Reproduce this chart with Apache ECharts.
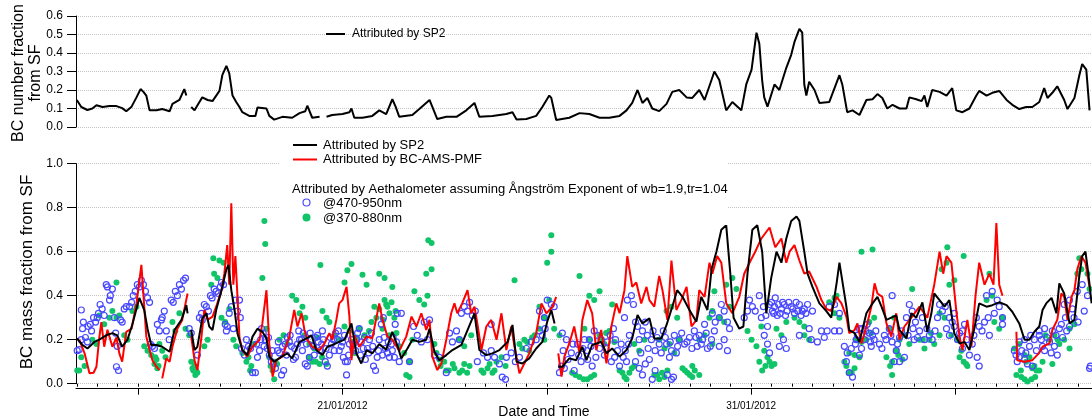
<!DOCTYPE html>
<html><head><meta charset="utf-8">
<script src="https://cdn.jsdelivr.net/npm/echarts@6/dist/echarts.min.js"></script>
<style>html,body{margin:0;padding:0;background:#fff}#c{width:1092px;height:417px}</style>
</head><body><div id="c"></div>
<script>
// x values: days since 01/01/2012 00:00 (20 = 21/01/2012, 30 = 31/01/2012)
const numberFractionSP2 = [[13.50,0.146],[13.61,0.108],[13.76,0.092],[13.88,0.10],[13.98,0.118],[14.13,0.108],[14.30,0.113],[14.47,0.113],[14.61,0.102],[14.71,0.085],[14.84,0.11],[14.96,0.16],[15.06,0.205],[15.13,0.19],[15.20,0.17],[15.28,0.09],[15.45,0.09],[15.59,0.097],[15.77,0.085],[15.84,0.125],[16.01,0.146],[16.13,0.205],[16.18,0.17],[16.24,null],[16.30,0.108],[16.38,0.09],[16.50,0.135],[16.57,0.16],[16.70,0.146],[16.82,0.14],[16.99,0.195],[17.06,0.28],[17.16,0.33],[17.23,0.29],[17.31,0.17],[17.40,0.135],[17.48,0.108],[17.55,0.08],[17.72,0.06],[17.87,0.06],[17.92,0.105],[18.14,0.10],[18.21,0.06],[18.33,0.04],[18.53,0.055],[18.77,0.05],[18.95,0.075],[19.09,0.085],[19.14,0.115],[19.26,0.05],[19.44,0.055],[19.53,null],[19.61,0.055],[19.75,0.065],[20.00,0.07],[20.17,0.08],[20.22,0.10],[20.29,0.05],[20.49,0.05],[20.73,0.06],[20.90,0.09],[21.07,0.07],[21.22,0.15],[21.30,0.11],[21.39,0.055],[21.71,0.065],[21.88,0.097],[22.13,0.146],[22.32,0.043],[22.54,0.055],[22.79,0.055],[23.03,0.09],[23.23,0.13],[23.35,0.055],[23.67,0.06],[24.01,0.07],[24.16,0.08],[24.26,0.04],[24.50,0.043],[24.74,0.06],[24.89,0.108],[25.06,0.17],[25.11,0.157],[25.23,0.038],[25.55,0.05],[25.80,0.075],[26.04,0.07],[26.29,0.05],[26.53,0.05],[26.78,0.06],[26.95,0.09],[27.09,0.13],[27.22,0.20],[27.34,0.13],[27.46,0.157],[27.58,0.10],[27.75,0.086],[27.93,0.125],[28.07,0.19],[28.24,0.20],[28.42,0.16],[28.56,0.157],[28.73,0.20],[28.86,0.146],[29.03,0.254],[29.10,0.30],[29.22,0.254],[29.39,0.09],[29.54,0.135],[29.76,0.09],[29.88,0.23],[30.01,0.31],[30.13,0.51],[30.20,0.45],[30.27,0.25],[30.32,0.16],[30.40,0.11],[30.57,0.23],[30.69,0.20],[30.86,0.32],[30.98,0.39],[31.06,0.46],[31.18,0.53],[31.25,0.51],[31.30,0.23],[31.35,0.17],[31.42,0.245],[31.55,0.20],[31.67,0.13],[31.91,0.135],[32.04,0.21],[32.16,0.28],[32.23,0.23],[32.35,0.08],[32.48,0.09],[32.65,0.065],[32.82,0.146],[32.97,0.15],[33.09,0.178],[33.21,0.157],[33.33,0.10],[33.46,0.12],[33.63,0.10],[33.80,0.10],[33.87,0.16],[34.04,0.15],[34.17,0.14],[34.24,0.17],[34.31,0.108],[34.43,0.20],[34.61,0.19],[34.78,0.17],[34.92,0.21],[35.02,0.09],[35.17,0.08],[35.34,0.10],[35.51,0.17],[35.58,0.195],[35.76,0.17],[35.90,0.185],[36.07,0.195],[36.25,0.146],[36.39,0.12],[36.56,0.097],[36.73,0.108],[36.88,0.108],[37.05,0.135],[37.17,0.21],[37.25,0.157],[37.37,0.185],[37.49,0.22],[37.66,0.146],[37.74,0.097],[37.91,0.157],[38.03,0.28],[38.10,0.34],[38.20,0.31],[38.28,0.09]];

const massFractionSP2 = [[13.50,0.206],[13.64,0.176],[13.76,0.16],[13.93,0.19],[14.05,0.20],[14.22,0.22],[14.37,0.23],[14.49,0.22],[14.61,0.168],[14.74,0.20],[14.86,0.27],[15.03,0.39],[15.15,0.335],[15.23,0.25],[15.32,0.176],[15.45,0.176],[15.59,0.168],[15.77,0.145],[15.89,0.244],[16.06,0.29],[16.18,0.357],[16.21,0.32],[16.25,null],[16.30,0.244],[16.38,0.153],[16.45,0.168],[16.57,0.297],[16.67,0.32],[16.74,0.26],[16.82,0.244],[16.91,0.335],[17.04,0.425],[17.16,0.52],[17.21,0.54],[17.28,0.425],[17.36,0.335],[17.43,0.23],[17.55,0.153],[17.67,0.13],[17.80,0.214],[17.92,0.25],[18.04,0.236],[18.14,0.206],[18.21,0.123],[18.33,0.10],[18.51,0.123],[18.65,0.138],[18.77,0.115],[18.95,0.19],[19.12,0.206],[19.24,0.22],[19.36,0.153],[19.51,0.13],[19.63,0.168],[19.75,0.176],[19.92,0.19],[20.05,0.20],[20.22,0.274],[20.34,0.138],[20.46,0.092],[20.59,0.153],[20.73,0.138],[20.90,0.18],[21.07,0.155],[21.22,0.236],[21.34,0.176],[21.44,0.115],[21.59,0.16],[21.71,0.20],[21.88,0.19],[22.05,0.20],[22.13,0.25],[22.25,0.145],[22.37,0.107],[22.54,0.13],[22.69,0.153],[22.91,0.176],[23.06,0.244],[23.23,0.32],[23.35,0.153],[23.52,0.13],[23.67,0.138],[23.84,0.153],[24.04,0.19],[24.16,0.267],[24.26,0.10],[24.40,0.092],[24.57,0.115],[24.74,0.16],[24.89,0.19],[25.01,0.282],[25.11,0.335],[25.19,0.274],[25.24,null],[25.28,0.077],[25.38,0.077],[25.55,0.115],[25.72,0.107],[25.87,0.168],[25.97,0.107],[26.11,0.176],[26.33,0.19],[26.46,0.138],[26.60,0.16],[26.78,0.123],[26.95,0.153],[27.09,0.206],[27.22,0.312],[27.34,0.274],[27.51,0.297],[27.63,0.206],[27.80,0.206],[27.93,0.267],[28.07,0.35],[28.19,0.425],[28.32,0.395],[28.49,0.335],[28.66,0.282],[28.78,0.395],[28.93,0.335],[29.03,0.52],[29.15,0.60],[29.27,0.70],[29.39,0.72],[29.49,0.50],[29.57,0.30],[29.71,0.25],[29.81,0.26],[29.91,0.50],[30.03,0.70],[30.15,0.72],[30.27,0.60],[30.37,0.32],[30.49,0.48],[30.62,0.60],[30.74,0.55],[30.86,0.66],[30.98,0.74],[31.11,0.76],[31.18,0.74],[31.30,0.60],[31.38,0.50],[31.50,0.44],[31.67,0.365],[31.84,0.33],[31.96,0.30],[32.09,0.456],[32.16,0.55],[32.33,0.35],[32.40,0.244],[32.53,0.23],[32.65,0.19],[32.72,0.244],[32.82,0.32],[32.97,0.365],[33.09,0.395],[33.19,0.35],[33.31,0.29],[33.43,0.30],[33.55,0.31],[33.63,0.244],[33.80,0.206],[33.92,0.32],[34.04,0.30],[34.19,0.37],[34.31,0.236],[34.41,0.32],[34.48,0.41],[34.61,0.38],[34.73,0.35],[34.85,0.38],[34.97,0.23],[35.10,0.183],[35.22,0.19],[35.34,0.153],[35.46,0.25],[35.58,0.365],[35.76,0.35],[35.90,0.357],[36.07,0.37],[36.25,0.357],[36.39,0.327],[36.56,0.274],[36.69,0.20],[36.81,0.20],[36.93,0.236],[37.05,0.26],[37.13,0.335],[37.22,0.365],[37.35,0.39],[37.47,0.32],[37.54,0.456],[37.66,0.41],[37.79,0.274],[37.91,0.29],[38.03,0.49],[38.10,0.58],[38.18,0.60],[38.25,0.50],[38.33,0.365]];

const massFractionPMF = [[13.56,0.20],[13.69,0.138],[13.81,0.047],[13.91,0.05],[13.98,0.077],[14.05,0.21],[14.10,0.28],[14.17,0.168],[14.25,0.245],[14.37,0.168],[14.47,0.21],[14.54,0.138],[14.61,0.10],[14.71,0.236],[14.84,0.25],[14.96,0.365],[15.08,0.54],[15.15,0.35],[15.20,0.215],[15.28,0.153],[15.35,0.107],[15.45,0.077],[15.52,0.062],[15.55,null],[15.59,0.024],[15.69,0.115],[15.77,0.10],[15.84,0.168],[15.96,0.25],[16.08,0.29],[16.16,0.365],[16.21,0.41],[16.25,null],[16.30,0.214],[16.38,0.107],[16.45,0.062],[16.55,0.214],[16.62,0.335],[16.70,0.29],[16.82,0.305],[16.91,0.35],[17.04,0.425],[17.11,0.50],[17.18,0.63],[17.23,0.45],[17.28,0.82],[17.33,0.45],[17.38,0.58],[17.43,0.40],[17.48,0.21],[17.55,0.153],[17.67,0.123],[17.80,0.168],[17.97,0.20],[18.04,0.274],[18.14,0.425],[18.21,0.18],[18.29,0.032],[18.38,0.107],[18.53,0.123],[18.70,0.214],[18.82,0.335],[18.90,0.26],[19.00,0.32],[19.07,0.244],[19.14,0.20],[19.26,0.168],[19.44,0.153],[19.56,0.183],[19.68,0.23],[19.75,0.20],[19.85,0.29],[19.92,0.365],[20.00,0.38],[20.10,0.44],[20.17,0.305],[20.22,0.107],[20.29,0.22],[20.41,0.168],[20.59,0.214],[20.73,0.206],[20.90,0.365],[20.98,0.29],[21.10,0.214],[21.22,0.20],[21.39,0.15],[21.56,0.214],[21.69,0.305],[21.81,0.26],[21.93,0.32],[22.05,0.244],[22.13,0.29],[22.20,0.123],[22.32,0.062],[22.42,0.092],[22.54,0.20],[22.66,0.32],[22.74,0.365],[22.81,0.32],[22.93,0.365],[23.06,0.425],[23.15,0.32],[23.23,0.35],[23.30,0.274],[23.40,0.153],[23.52,0.26],[23.64,0.29],[23.77,0.20],[23.89,0.32],[24.01,0.153],[24.13,0.26],[24.21,0.168],[24.33,0.047],[24.45,0.092],[24.57,0.138],[24.74,0.23],[24.87,0.365],[24.99,0.32],[25.14,0.35],[25.23,0.395],[25.26,null],[25.28,0.138],[25.36,0.032],[25.43,0.123],[25.55,0.183],[25.67,0.26],[25.80,0.138],[25.87,0.29],[25.99,0.38],[26.11,0.32],[26.21,0.153],[26.33,0.244],[26.46,0.092],[26.58,0.26],[26.70,0.365],[26.78,0.32],[26.90,0.425],[26.97,0.58],[27.09,0.44],[27.19,0.46],[27.31,0.365],[27.44,0.44],[27.51,0.38],[27.63,0.35],[27.75,0.49],[27.83,0.425],[27.95,0.29],[28.05,0.56],[28.17,0.335],[28.29,0.38],[28.42,0.44],[28.54,0.26],[28.66,0.29],[28.73,0.425],[28.86,0.395],[28.98,0.55],[29.05,0.50],[29.17,0.58],[29.27,0.55],[29.39,0.365],[29.54,0.32],[29.71,0.395],[29.83,0.50],[29.96,0.55],[30.10,0.60],[30.25,0.66],[30.45,0.71],[30.59,0.62],[30.74,0.66],[30.86,0.55],[30.94,0.60],[31.06,0.63],[31.18,0.56],[31.30,0.50],[31.42,0.51],[31.60,0.44],[31.72,0.38],[31.84,0.34],[31.96,0.33],[32.09,0.395],[32.21,0.365],[32.33,0.305],[32.40,0.23],[32.53,0.244],[32.60,0.274],[32.70,0.183],[32.82,0.258],[32.94,0.35],[33.02,0.456],[33.09,0.41],[33.21,0.395],[33.31,0.274],[33.43,0.214],[33.55,0.32],[33.63,0.20],[33.75,0.26],[33.92,0.30],[34.12,0.35],[34.31,0.30],[34.48,0.45],[34.61,0.60],[34.70,0.50],[34.78,0.58],[34.90,0.55],[35.02,0.33],[35.10,0.21],[35.17,0.153],[35.29,0.29],[35.39,0.17],[35.49,0.40],[35.58,0.55],[35.71,0.45],[35.83,0.50],[35.93,0.45],[36.00,0.73],[36.07,0.45],[36.15,0.40],[36.30,null],[36.49,0.236],[36.51,0.107],[36.69,0.10],[36.88,0.107],[37.05,0.14],[37.13,0.168],[37.30,0.183],[37.37,0.244],[37.49,0.29],[37.59,0.41],[37.66,0.395],[37.74,0.29],[37.84,0.395],[37.91,0.425],[37.98,0.52],[38.08,0.58],[38.18,0.55],[38.28,0.44]];

const aeth470_950 = [[13.51,0.15],[13.56,0.155],[13.61,0.20],[13.64,0.25],[13.66,0.28],[13.61,0.335],[13.71,0.21],[13.76,0.19],[13.78,0.26],[13.83,0.27],[13.86,0.24],[13.91,0.30],[13.96,0.28],[14.00,0.30],[14.03,0.32],[14.07,0.36],[14.12,0.34],[14.17,0.31],[14.22,0.45],[14.25,0.44],[14.30,0.38],[14.32,0.40],[14.37,0.43],[14.42,0.30],[14.45,0.23],[14.49,0.17],[14.47,0.077],[14.52,0.06],[14.57,0.29],[14.61,0.28],[14.66,0.34],[14.71,0.35],[14.79,0.35],[14.84,0.37],[14.88,0.40],[14.93,0.42],[14.98,0.45],[15.03,0.44],[15.08,0.47],[15.13,0.45],[15.18,0.42],[15.23,0.39],[15.28,0.37],[15.30,0.18],[15.35,0.17],[15.40,0.16],[15.47,0.27],[15.52,0.24],[15.57,0.29],[15.59,0.30],[15.64,0.33],[15.69,0.24],[15.76,0.20],[15.81,0.38],[15.86,0.37],[15.91,0.42],[15.96,0.40],[16.01,0.45],[16.06,0.43],[16.11,0.47],[16.16,0.48],[16.25,0.25],[16.30,0.23],[16.45,0.13],[16.50,0.30],[16.55,0.32],[16.57,0.29],[16.62,0.36],[16.67,0.35],[16.72,0.33],[16.77,0.40],[16.81,0.39],[16.86,0.43],[16.91,0.42],[16.96,0.41],[17.01,0.44],[17.04,0.46],[17.09,0.45],[17.13,0.27],[17.16,0.24],[17.18,0.26],[17.23,0.32],[17.28,0.35],[17.33,0.25],[17.38,0.38],[17.43,0.33],[17.48,0.38],[17.50,0.30],[17.53,0.16],[17.60,0.13],[17.65,0.20],[17.70,0.17],[17.75,0.16],[17.80,0.05],[17.87,0.05],[17.92,0.12],[17.97,0.15],[18.02,0.25],[18.06,0.23],[18.11,0.20],[18.16,0.16],[18.21,0.13],[18.26,0.10],[18.31,0.09],[18.36,0.07],[18.41,0.15],[18.46,0.14],[18.51,0.04],[18.56,0.06],[18.60,0.18],[18.65,0.21],[18.70,0.19],[18.75,0.17],[18.80,0.11],[18.85,0.12],[18.90,0.18],[18.95,0.20],[19.00,0.20],[19.04,0.23],[19.09,0.09],[19.14,0.08],[19.19,0.12],[19.24,0.20],[19.29,0.17],[19.34,0.21],[19.39,0.22],[19.44,0.15],[19.49,0.18],[19.53,0.20],[19.58,0.10],[19.63,0.08],[19.68,0.13],[19.73,0.18],[19.78,0.20],[19.83,0.23],[19.88,0.20],[19.92,0.15],[19.97,0.17],[20.02,0.12],[20.07,0.10],[20.10,0.04],[20.12,0.10],[20.17,0.18],[20.22,0.20],[20.27,0.18],[20.32,0.15],[20.37,0.23],[20.41,0.25],[20.46,0.19],[20.51,0.16],[20.56,0.11],[20.61,0.16],[20.66,0.20],[20.71,0.23],[20.76,0.08],[20.81,0.06],[20.85,0.12],[20.90,0.20],[20.95,0.27],[21.00,0.30],[21.05,0.16],[21.10,0.14],[21.15,0.12],[21.20,0.18],[21.24,0.21],[21.29,0.27],[21.34,0.32],[20.98,0.13],[21.27,0.12],[21.39,0.10],[21.44,0.32],[21.64,0.10],[21.74,0.26],[21.83,0.22],[21.93,0.19],[22.00,0.28],[22.08,0.20],[22.13,0.29],[22.25,0.13],[22.37,0.12],[22.54,0.05],[22.62,0.23],[22.69,0.19],[22.79,0.24],[22.86,0.20],[22.91,0.32],[22.98,0.35],[23.06,0.33],[23.11,0.37],[23.18,0.31],[23.25,0.33],[23.30,0.10],[23.45,0.14],[23.55,0.12],[23.64,0.15],[23.64,0.27],[23.72,0.12],[23.84,0.09],[23.91,0.03],[23.99,0.02],[24.01,0.12],[24.13,0.14],[24.23,0.10],[24.33,0.12],[24.50,0.16],[24.62,0.19],[24.74,0.20],[24.82,0.24],[24.89,0.22],[24.96,0.25],[24.82,0.33],[24.94,0.30],[25.01,0.38],[25.11,0.36],[25.18,0.35],[25.38,0.23],[25.31,0.05],[25.43,0.07],[25.36,0.08],[25.48,0.20],[25.60,0.14],[25.67,0.06],[25.75,0.18],[25.84,0.10],[25.92,0.20],[25.99,0.15],[26.04,0.20],[26.11,0.08],[26.16,0.24],[26.24,0.22],[26.29,0.16],[26.41,0.13],[26.48,0.19],[26.58,0.10],[26.63,0.25],[26.68,0.20],[26.73,0.15],[26.78,0.08],[26.87,0.12],[26.95,0.10],[27.02,0.22],[26.90,0.30],[26.97,0.38],[27.07,0.40],[27.12,0.36],[27.17,0.28],[27.22,0.26],[27.17,0.10],[27.26,0.07],[27.34,0.04],[27.41,0.09],[27.51,0.11],[27.58,0.02],[27.65,0.06],[27.26,0.20],[27.34,0.24],[27.41,0.28],[27.46,0.22],[27.56,0.20],[27.65,0.15],[27.75,0.18],[27.85,0.24],[27.93,0.18],[28.00,0.12],[28.05,0.15],[27.95,0.04],[28.05,0.02],[28.10,0.03],[28.12,0.22],[28.17,0.14],[28.24,0.20],[28.37,0.18],[28.49,0.21],[28.61,0.24],[28.68,0.17],[28.73,0.22],[28.81,0.20],[28.86,0.27],[28.93,0.16],[29.03,0.20],[29.05,0.32],[29.12,0.28],[29.22,0.30],[29.27,0.36],[29.34,0.33],[29.42,0.28],[29.47,0.25],[29.22,0.17],[29.34,0.20],[29.42,0.15],[29.83,0.30],[29.91,0.33],[29.96,0.38],[30.03,0.35],[30.10,0.33],[30.20,0.40],[30.25,0.30],[30.32,0.22],[30.40,0.26],[30.45,0.36],[30.52,0.33],[30.59,0.39],[30.64,0.31],[30.40,0.18],[30.45,0.14],[30.57,0.35],[30.74,0.34],[30.81,0.36],[30.88,0.33],[30.98,0.35],[31.06,0.32],[31.18,0.36],[31.25,0.33],[31.30,0.34],[30.69,0.17],[30.79,0.20],[30.86,0.16],[31.18,0.22],[31.42,0.25],[31.47,0.20],[31.62,0.19],[31.72,0.24],[31.86,0.24],[32.04,0.24],[32.16,0.24],[31.79,0.21],[31.91,0.35],[32.04,0.36],[32.16,0.32],[32.28,0.17],[32.35,0.14],[32.45,0.16],[32.55,0.18],[32.65,0.13],[32.33,0.10],[32.40,0.05],[32.48,0.03],[32.57,0.20],[32.65,0.25],[32.77,0.20],[32.89,0.23],[32.94,0.17],[32.72,0.25],[32.84,0.27],[32.97,0.22],[33.01,0.20],[33.14,0.18],[33.26,0.22],[33.38,0.25],[33.45,0.19],[33.55,0.15],[33.63,0.21],[33.45,0.40],[33.50,0.10],[33.63,0.10],[33.75,0.12],[33.80,0.30],[33.87,0.36],[33.94,0.33],[34.02,0.28],[34.12,0.24],[34.19,0.30],[33.99,0.20],[34.24,0.20],[34.36,0.22],[34.43,0.20],[34.61,0.36],[34.68,0.33],[34.75,0.35],[34.85,0.30],[34.97,0.32],[34.78,0.25],[34.85,0.22],[34.97,0.26],[35.05,0.20],[35.17,0.24],[35.17,0.16],[35.27,0.20],[35.34,0.13],[35.41,0.18],[35.53,0.12],[35.58,0.08],[35.51,0.30],[35.58,0.26],[35.71,0.28],[35.83,0.22],[35.76,0.40],[35.90,0.42],[36.02,0.38],[35.95,0.32],[36.07,0.35],[36.15,0.30],[36.15,0.27],[36.44,0.15],[36.51,0.10],[36.56,0.12],[36.69,0.11],[36.76,0.09],[36.88,0.08],[36.56,0.19],[36.69,0.20],[36.81,0.17],[36.93,0.20],[37.05,0.22],[37.13,0.17],[37.05,0.24],[37.18,0.25],[37.18,0.15],[37.30,0.19],[37.42,0.17],[37.49,0.13],[37.37,0.24],[37.54,0.25],[37.59,0.27],[37.69,0.30],[37.79,0.26],[37.66,0.36],[37.79,0.38],[37.86,0.34],[37.98,0.42],[38.10,0.45],[38.23,0.40],[38.28,0.07],[38.30,0.08],
[17.90,0.18],[18.00,0.20],[18.08,0.17],[18.19,0.21],[18.28,0.15],[18.43,0.19],[18.53,0.17],[18.63,0.13],[18.72,0.22],[18.83,0.16],[18.93,0.24],[19.02,0.15],[19.12,0.18],[19.21,0.23],[19.31,0.13],[19.41,0.19],[19.51,0.24],[19.60,0.16],[19.70,0.21],[19.80,0.15],[19.90,0.24],[20.00,0.19],[20.05,0.22],[20.15,0.13],[20.25,0.16],[20.35,0.20],[20.44,0.13],[20.54,0.21],[20.64,0.14],[20.74,0.17],[20.88,0.15],[21.02,0.21],[21.12,0.19],[21.22,0.15],[21.32,0.19],
[25.40,0.15],[25.52,0.11],[25.64,0.18],[25.78,0.13],[25.88,0.16],[26.00,0.11],[26.08,0.17],[26.20,0.12],[26.33,0.20],[26.45,0.16],[26.55,0.22],[26.66,0.12],[26.82,0.18],[26.92,0.15],[27.00,0.18],[27.30,0.14],[27.48,0.16],[27.60,0.24],[27.70,0.21],[27.80,0.14],[27.90,0.21],[28.02,0.19],[28.20,0.17],[28.30,0.23],[28.43,0.19],[28.55,0.16],[28.65,0.21],[28.78,0.18],[28.90,0.23],[29.00,0.17],[29.10,0.24],
[30.30,0.35],[30.36,0.31],[30.50,0.37],[30.55,0.32],[30.67,0.36],[30.71,0.32],[30.77,0.37],[30.84,0.31],[30.92,0.37],[31.02,0.34],[31.10,0.37],[31.14,0.33],[31.22,0.31],[31.34,0.32],[31.38,0.36],[31.50,0.33],
[32.60,0.22],[32.70,0.16],[32.80,0.24],[32.92,0.19],[33.05,0.24],[33.20,0.16],[33.30,0.20],[33.42,0.22],[33.58,0.18],[33.68,0.24],[33.84,0.22],[33.96,0.25],[34.07,0.21],[34.30,0.25],[34.50,0.24],[34.56,0.30],[34.92,0.28],[35.10,0.23],[35.22,0.27],[35.45,0.22],[35.65,0.24],[35.80,0.30],
[36.48,0.13],[36.62,0.15],[36.72,0.14],[36.84,0.22],[36.98,0.15],[37.10,0.20],[37.24,0.21],[37.34,0.14],[37.46,0.22],[37.62,0.21],[37.72,0.24],[37.90,0.30],[38.00,0.28],[38.15,0.33]];

const aeth370_880 = [[13.51,0.06],[13.56,0.06],[13.61,0.12],[13.69,0.08],[13.88,0.20],[13.98,0.18],[14.05,0.31],[14.17,0.27],[14.30,0.30],[14.37,0.33],[14.47,0.30],[14.54,0.31],[14.47,0.46],[14.66,0.22],[14.74,0.20],[14.86,0.33],[14.96,0.35],[15.15,0.17],[15.23,0.15],[15.32,0.13],[15.40,0.09],[15.45,0.11],[15.50,0.08],[15.52,0.18],[15.59,0.15],[15.67,0.12],[15.84,0.28],[15.91,0.24],[16.01,0.32],[16.16,0.25],[16.25,0.22],[16.30,0.10],[16.35,0.06],[16.40,0.04],[16.45,0.05],[16.38,0.08],[16.62,0.17],[16.70,0.20],[16.79,0.45],[16.86,0.50],[16.94,0.48],[16.84,0.57],[16.99,0.56],[17.09,0.55],[17.04,0.30],[17.13,0.28],[17.23,0.34],[17.33,0.20],[17.40,0.17],[17.55,0.14],[17.65,0.10],[17.77,0.08],[17.84,0.18],[18.04,0.48],[18.09,0.74],[18.11,0.635],[18.14,0.25],[18.21,0.12],[18.29,0.06],[18.36,0.10],[18.33,0.02],[18.46,0.20],[18.56,0.22],[18.65,0.18],[18.77,0.40],[18.87,0.38],[18.95,0.32],[19.02,0.35],[19.09,0.30],[19.07,0.22],[19.19,0.18],[19.31,0.16],[19.39,0.21],[19.26,0.10],[19.44,0.09],[19.61,0.09],[19.46,0.54],[19.51,0.33],[19.61,0.30],[19.68,0.28],[19.80,0.22],[19.92,0.20],[20.05,0.26],[20.17,0.24],[20.24,0.19],[20.05,0.46],[20.12,0.516],[20.22,0.544],[20.49,0.495],[20.41,0.25],[20.54,0.22],[20.71,0.28],[20.59,0.45],[20.78,0.35],[20.90,0.34],[21.03,0.38],[21.15,0.32],[21.27,0.30],[20.98,0.25],[21.15,0.22],[21.32,0.23],[20.90,0.50],[21.03,0.48],[21.07,0.36],[21.20,0.37],[21.22,0.44],[21.39,0.17],[21.51,0.14],[21.64,0.10],[21.71,0.20],[21.56,0.04],[21.64,0.03],[21.76,0.42],[21.88,0.38],[22.00,0.36],[22.08,0.40],[22.05,0.50],[22.18,0.52],[22.10,0.652],[22.18,0.64],[22.25,0.18],[22.37,0.11],[22.49,0.10],[22.54,0.06],[22.74,0.07],[22.86,0.05],[22.98,0.09],[23.11,0.08],[22.86,0.20],[22.98,0.17],[23.15,0.22],[23.40,0.06],[23.55,0.07],[23.67,0.05],[23.77,0.10],[23.89,0.12],[23.99,0.08],[24.21,0.47],[24.33,0.18],[24.45,0.20],[24.57,0.15],[24.70,0.22],[24.82,0.25],[24.94,0.20],[24.82,0.35],[24.94,0.30],[25.06,0.38],[25.01,0.55],[25.11,0.60],[25.11,0.675],[25.18,0.25],[25.31,0.22],[25.62,0.05],[25.80,0.03],[25.99,0.02],[26.16,0.04],[25.80,0.49],[25.92,0.25],[26.04,0.20],[26.29,0.22],[26.41,0.18],[26.53,0.24],[26.65,0.19],[26.04,0.40],[26.16,0.38],[26.29,0.42],[26.78,0.06],[26.90,0.03],[27.02,0.05],[27.14,0.08],[26.60,0.36],[27.14,0.18],[27.26,0.15],[27.39,0.20],[27.63,0.04],[27.75,0.02],[27.88,0.03],[27.95,0.06],[27.75,0.20],[27.88,0.16],[28.00,0.18],[28.12,0.14],[28.24,0.20],[27.93,0.33],[28.05,0.35],[28.19,0.30],[28.32,0.07],[28.44,0.05],[28.56,0.08],[28.73,0.04],[28.56,0.03],[28.73,0.20],[28.86,0.22],[29.05,0.18],[28.98,0.30],[29.05,0.33],[29.22,0.30],[29.34,0.28],[29.47,0.35],[29.10,0.42],[29.39,0.45],[29.54,0.48],[29.64,0.43],[29.91,0.24],[30.01,0.20],[30.13,0.17],[30.25,0.26],[30.27,0.06],[30.32,0.15],[30.40,0.12],[30.45,0.10],[30.50,0.08],[30.57,0.09],[30.62,0.25],[30.74,0.22],[30.86,0.28],[31.06,0.30],[31.18,0.28],[31.30,0.26],[31.30,0.22],[31.42,0.20],[31.91,0.37],[32.04,0.39],[32.09,0.40],[32.04,0.32],[32.16,0.30],[32.28,0.10],[32.40,0.05],[32.53,0.07],[32.40,0.14],[32.53,0.13],[32.65,0.12],[32.57,0.20],[32.70,0.19],[32.82,0.20],[32.94,0.23],[32.89,0.28],[33.01,0.30],[32.70,0.60],[32.97,0.61],[33.31,0.12],[33.45,0.10],[33.55,0.15],[33.70,0.11],[33.45,0.04],[33.38,0.25],[33.50,0.30],[33.94,0.43],[33.63,0.20],[33.75,0.22],[33.87,0.18],[34.12,0.20],[34.24,0.16],[34.36,0.20],[34.48,0.18],[34.61,0.22],[34.61,0.32],[34.73,0.30],[34.66,0.52],[34.78,0.55],[34.80,0.62],[34.85,0.45],[34.97,0.47],[34.90,0.22],[35.05,0.20],[35.14,0.15],[35.20,0.10],[35.29,0.08],[35.20,0.58],[35.76,0.38],[35.90,0.40],[35.83,0.50],[35.95,0.28],[36.07,0.25],[36.15,0.30],[36.44,0.16],[36.56,0.18],[36.69,0.13],[36.73,0.10],[36.81,0.12],[36.93,0.08],[37.05,0.06],[37.13,0.10],[36.49,0.04],[36.61,0.03],[36.69,0.02],[36.76,0.01],[36.86,0.02],[36.88,0.07],[36.98,0.06],[37.30,0.20],[37.42,0.22],[37.54,0.18],[37.66,0.20],[37.79,0.16],[37.37,0.09],[37.79,0.25],[37.91,0.27],[37.98,0.50],[38.08,0.52],[38.03,0.57],[38.23,0.50],[38.28,0.43],
[15.42,0.12],[15.47,0.07],[16.33,0.07],[16.42,0.06],[17.70,0.12],[17.74,0.06],[18.24,0.08],[18.40,0.09],[19.18,0.12],[19.35,0.10],[19.50,0.12],[20.30,0.14],[20.35,0.21],[20.65,0.24],[20.83,0.30],[21.00,0.29],[21.10,0.35],[21.30,0.33],[22.30,0.14],[22.40,0.08],[22.60,0.06],[22.70,0.09],[22.93,0.06],[23.05,0.05],[23.45,0.05],[23.60,0.09],[23.72,0.06],[24.40,0.16],[24.52,0.19],[24.64,0.21],[25.70,0.04],[25.90,0.02],[26.08,0.03],[26.35,0.20],[26.45,0.23],[26.85,0.05],[26.95,0.02],[27.08,0.07],[27.70,0.04],[27.82,0.05],[28.38,0.06],[28.50,0.04],[28.62,0.06],[30.20,0.10],[30.35,0.08],[32.33,0.08],[32.46,0.05],[33.40,0.08],[33.60,0.13],[34.20,0.20],[34.40,0.23],[35.10,0.12],[35.26,0.09],[36.60,0.06],[36.95,0.03],[37.20,0.22],[37.50,0.20]];

const xMin = 13.48, xMax = 38.34;
const majorTickDays = [15, 20, 25, 30, 35];
const labelDays = [20, 30];
const minorTickDays = [];
for (let d = 13.5; d <= 38.3; d += 0.5) minorTickDays.push(d);
const yTopTicks = {min: 0, max: 0.6, step: 0.1};
const yBotTicks = {min: 0, max: 1.0, step: 0.2};

function pad(n){ return (n < 10 ? '0' : '') + n; }
function dayLabel(v){
  const r = Math.round(v);
  const m = r < 31 ? 1 : 2;
  const dd = m === 1 ? r + 1 : r - 30;
  return pad(dd) + '/' + pad(m) + '/2012';
}
function toLine(arr){ return arr.map(p => p[1] === null ? [p[0], '-'] : p); }

const FONT = '"Liberation Sans", Arial, Helvetica, sans-serif';
const gridLine = {show: true, lineStyle: {color: '#c4c4c4', type: 'dotted', width: 1}};
const blackAxis = {show: true, onZero: false, lineStyle: {color: '#000', width: 1}};

const chart = echarts.init(document.getElementById('c'), null, {renderer: 'canvas'});
chart.setOption({
  animation: false,
  backgroundColor: '#fff',
  textStyle: {fontFamily: FONT},
  grid: [
    {left: 76, top: 16, width: 1016, height: 111},
    {left: 76, top: 163.7, width: 1016, height: 220}
  ],
  xAxis: [
    {gridIndex: 0, type: 'value', min: xMin, max: xMax, show: false},
    {gridIndex: 1, type: 'value', min: xMin, max: xMax, position: 'bottom', offset: 5,
      axisLine: blackAxis,
      axisTick: {show: true, customValues: majorTickDays, length: 6, lineStyle: {color: '#000', width: 1}},
      axisLabel: {show: true, customValues: labelDays, formatter: dayLabel, fontSize: 10, color: '#000', margin: 13, fontFamily: FONT},
      splitLine: {show: false}},
    {gridIndex: 1, type: 'value', min: xMin, max: xMax, position: 'bottom', offset: 5,
      axisLine: {show: false},
      axisTick: {show: true, customValues: minorTickDays, length: 3, lineStyle: {color: '#000', width: 1}},
      axisLabel: {show: false}, splitLine: {show: false}}
  ],
  yAxis: [
    {gridIndex: 0, type: 'value', min: yTopTicks.min, max: yTopTicks.max, interval: yTopTicks.step,
      axisLine: blackAxis,
      axisTick: {show: true, length: 9, lineStyle: {color: '#000'}},
      axisLabel: {fontSize: 12, color: '#000', margin: 13, fontFamily: FONT, formatter: v => v.toFixed(1)},
      splitLine: gridLine},
    {gridIndex: 1, type: 'value', min: yBotTicks.min, max: yBotTicks.max, interval: yBotTicks.step,
      axisLine: blackAxis,
      axisTick: {show: true, length: 9, lineStyle: {color: '#000'}},
      axisLabel: {fontSize: 12, color: '#000', margin: 13, fontFamily: FONT, formatter: v => v.toFixed(1)},
      splitLine: gridLine}
  ],
  series: [
    {name: 'Attributed by SP2 (number)', type: 'line', xAxisIndex: 0, yAxisIndex: 0, data: toLine(numberFractionSP2),
      showSymbol: false, connectNulls: false, lineStyle: {color: '#000', width: 2}, z: 4},
    {name: '@370-880nm', type: 'scatter', xAxisIndex: 1, yAxisIndex: 1, data: aeth370_880,
      symbol: 'circle', symbolSize: 6, itemStyle: {color: '#10c468', opacity: 1}, z: 1},
    {name: '@470-950nm', type: 'scatter', xAxisIndex: 1, yAxisIndex: 1, data: aeth470_950,
      symbol: 'circle', symbolSize: 6, itemStyle: {color: 'rgba(255,255,255,0)', borderColor: '#4848ff', borderWidth: 1.2, opacity: 1}, z: 2},
    {name: 'Attributed by BC-AMS-PMF', type: 'line', xAxisIndex: 1, yAxisIndex: 1, data: toLine(massFractionPMF),
      showSymbol: false, connectNulls: false, lineStyle: {color: '#ff0000', width: 2}, z: 3},
    {name: 'Attributed by SP2', type: 'line', xAxisIndex: 1, yAxisIndex: 1, data: toLine(massFractionSP2),
      showSymbol: false, connectNulls: false, lineStyle: {color: '#000', width: 2}, z: 4}
  ],
  graphic: [
    {type: 'text', x: 27, y: 73, rotation: Math.PI / 2, z: 50,
      style: {text: 'BC number fraction\nfrom SF', font: '16px ' + FONT, fill: '#000', textAlign: 'center', textVerticalAlign: 'middle', lineHeight: 17}},
    {type: 'text', x: 27, y: 272, rotation: Math.PI / 2, z: 50,
      style: {text: 'BC mass fraction from SF', font: '17px ' + FONT, fill: '#000', textAlign: 'center', textVerticalAlign: 'middle'}},
    {type: 'text', x: 544, y: 412, z: 50,
      style: {text: 'Date and Time', font: '14px ' + FONT, fill: '#000', textAlign: 'center', textVerticalAlign: 'middle'}},
    // top legend
    {type: 'line', z: 50, shape: {x1: 326, y1: 34, x2: 345, y2: 34}, style: {stroke: '#000', lineWidth: 2}},
    {type: 'text', x: 352, y: 34, z: 50, style: {text: 'Attributed by SP2', font: '12px ' + FONT, fill: '#000', textVerticalAlign: 'middle'}},
    // bottom legend box
    {type: 'rect', z: 40, shape: {x: 280, y: 134, width: 447, height: 91}, style: {fill: '#fff'}},
    {type: 'line', z: 50, shape: {x1: 293, y1: 145, x2: 317, y2: 145}, style: {stroke: '#000', lineWidth: 2}},
    {type: 'text', x: 323, y: 145, z: 50, style: {text: 'Attributed by SP2', font: '13px ' + FONT, fill: '#000', textVerticalAlign: 'middle'}},
    {type: 'line', z: 50, shape: {x1: 293, y1: 159.5, x2: 317, y2: 159.5}, style: {stroke: '#ff0000', lineWidth: 2}},
    {type: 'text', x: 323, y: 159.5, z: 50, style: {text: 'Attributed by BC-AMS-PMF', font: '13px ' + FONT, fill: '#000', textVerticalAlign: 'middle'}},
    {type: 'text', x: 292, y: 189, z: 50, style: {text: 'Attributed by Aethalometer assuming Ångström Exponent of wb=1.9,tr=1.04', font: '13px ' + FONT, fill: '#000', textVerticalAlign: 'middle'}},
    {type: 'circle', z: 50, shape: {cx: 306.5, cy: 202.5, r: 3.5}, style: {fill: 'none', stroke: '#4848ff', lineWidth: 1.2}},
    {type: 'text', x: 323, y: 203, z: 50, style: {text: '@470-950nm', font: '13px ' + FONT, fill: '#000', textVerticalAlign: 'middle'}},
    {type: 'circle', z: 50, shape: {cx: 306.5, cy: 217.5, r: 4}, style: {fill: '#10c468'}},
    {type: 'text', x: 323, y: 218, z: 50, style: {text: '@370-880nm', font: '13px ' + FONT, fill: '#000', textVerticalAlign: 'middle'}}
  ]
});
</script>
</body></html>
